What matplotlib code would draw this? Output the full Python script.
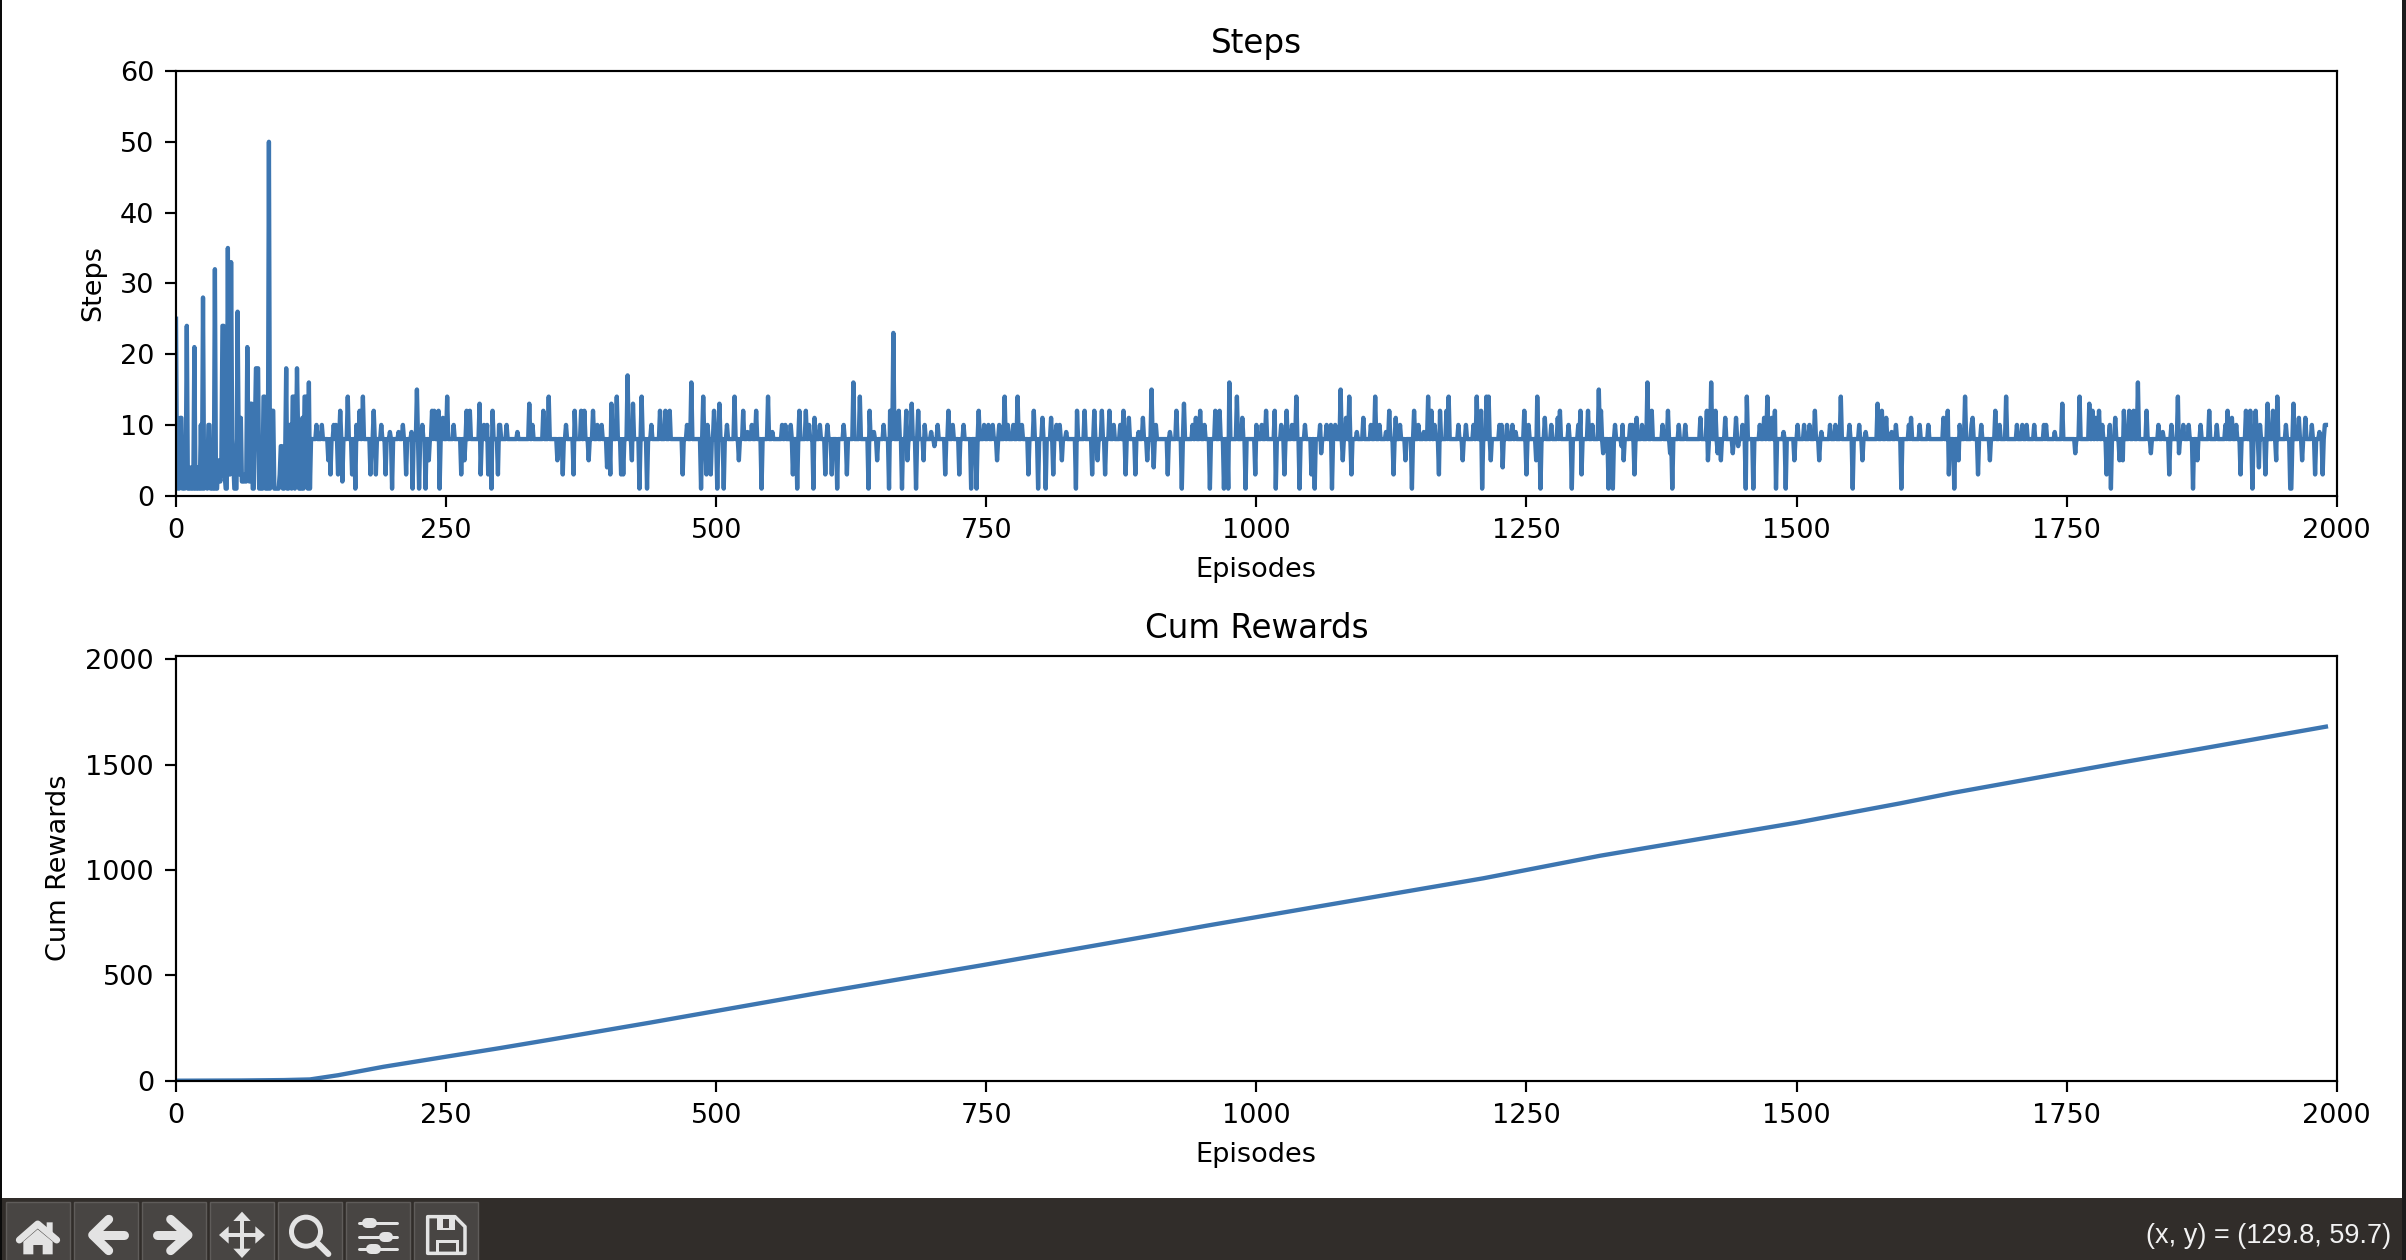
import matplotlib
matplotlib.use("Agg")
import matplotlib.pyplot as plt
from matplotlib.patches import Rectangle, Circle, Polygon

# first episodes, read one by one
steps_early = [25, 1, 9, 1, 11, 11, 1, 5, 1, 3, 24, 1, 1, 1, 4, 1, 1, 21, 1, 1, 4, 1, 1, 10, 1, 28, 1, 2, 5, 1,
               10, 10, 1, 5, 1, 1, 32, 1, 1, 5, 3, 2, 5, 24, 24, 3, 1, 1, 35, 3, 3, 33, 8, 5, 1, 1, 1, 26, 8, 3,
               11, 2, 2, 2, 3, 2, 21, 7, 2, 13, 13, 1, 1, 9, 18, 18, 18, 1, 5, 1, 1, 14, 14, 1, 1, 1, 50, 1, 8, 12,
               12, 1, 1, 1, 1, 1, 3, 7, 7, 1, 1, 5, 18, 1, 1, 10, 10, 1, 14, 14, 1, 6, 18, 9, 1, 1, 1, 11, 1, 14,
               14, 8, 1, 16, 1, 8]

# after that the series sits on 8, these are the episodes where it leaves 8
eps_a = [130, 135, 141, 143, 146, 148, 150, 152, 154, 159, 163, 166, 167, 170, 173, 180, 183, 185, 190, 194, 198, 200,
         206, 210, 213, 218, 219, 223, 225, 228, 231, 234, 237, 239, 243, 244, 247, 251, 257, 264, 267, 269, 272, 281,
         282, 285, 288, 289, 292, 293, 298, 299]
vals_a = [10, 10, 5, 3, 10, 10, 3, 12, 2, 14, 3, 1, 10, 12, 14, 3, 12, 3, 10, 3, 9, 1,
          9, 10, 3, 9, 1, 15, 1, 10, 1, 5, 12, 12, 12, 1, 11, 14, 10, 3, 5, 12, 12, 13,
          3, 10, 10, 3, 1, 12, 3, 10]

eps_b = [300, 306, 316, 327, 330, 340, 345, 353, 358, 361, 368, 369, 375, 378, 382, 386, 390, 394, 399, 402, 403, 408,
         412, 414, 418, 422, 423, 429, 431, 436, 440, 448, 453, 457, 469, 473, 477, 486, 488, 491, 492, 495, 498, 501,
         503, 507, 510, 517, 521, 525, 529, 533, 537, 542, 548, 552, 561, 564, 569, 571, 575, 577, 583, 586, 590, 591,
         596, 601, 603, 607, 612, 618, 621]
vals_b = [10, 10, 9, 13, 10, 12, 14, 5, 3, 10, 3, 12, 12, 12, 5, 12, 10, 10, 4, 3, 13, 14,
          3, 3, 17, 5, 13, 1, 14, 1, 10, 12, 12, 12, 3, 10, 16, 1, 14, 3, 10, 3, 12, 1,
          13, 1, 10, 14, 5, 12, 9, 10, 12, 1, 14, 9, 10, 10, 10, 3, 1, 12, 12, 10, 1, 11,
          10, 3, 10, 3, 1, 10, 3]

eps_c = [627, 633, 641, 642, 646, 649, 655, 660, 661, 664, 669, 672, 676, 677, 681, 685, 687, 692, 693, 699, 702, 705,
         712, 715, 719, 725, 729, 736, 741, 743, 748, 752, 756, 760, 762, 767, 770, 775, 779, 783, 789, 794, 798, 802,
         805, 810, 812, 815, 818, 820, 824, 833, 834, 841, 848, 850, 853, 857, 860, 864, 868, 874, 877, 879, 882, 888,
         891, 895, 899, 903, 905, 907, 918, 920, 926, 931, 933, 941, 944]
vals_c = [16, 14, 1, 12, 9, 5, 10, 1, 12, 23, 12, 1, 12, 5, 13, 1, 12, 5, 10, 9, 7, 10,
          3, 12, 10, 3, 10, 1, 1, 12, 10, 10, 10, 5, 10, 14, 10, 10, 14, 10, 3, 12, 1, 11,
          1, 11, 3, 10, 10, 5, 9, 1, 12, 12, 3, 12, 5, 12, 3, 12, 10, 10, 12, 3, 11, 3,
          9, 11, 5, 15, 4, 10, 3, 9, 12, 1, 13, 10, 11]

eps_d = [948, 952, 957, 962, 966, 970, 974, 975, 982, 987, 990, 999, 1000, 1005, 1009, 1017, 1018, 1023, 1026, 1028,
         1033, 1037, 1040, 1045, 1051, 1054, 1059, 1060, 1065, 1069, 1070, 1073, 1078, 1080, 1083, 1086, 1088, 1093,
         1099, 1106, 1110, 1114, 1120, 1123, 1127, 1129, 1133, 1138, 1144, 1146, 1150, 1155, 1159, 1162, 1165, 1169,
         1170, 1176, 1178, 1187, 1191, 1194, 1201, 1204, 1208, 1209, 1213, 1215, 1217, 1225]
vals_d = [12, 10, 1, 12, 12, 1, 1, 16, 14, 11, 1, 3, 10, 10, 12, 12, 1, 10, 3, 12,
          10, 14, 1, 10, 3, 1, 10, 6, 10, 10, 1, 10, 15, 5, 11, 14, 3, 9,
          11, 10, 14, 10, 9, 12, 3, 11, 10, 5, 1, 12, 10, 9, 14, 12, 10, 3,
          12, 12, 14, 10, 5, 10, 10, 14, 12, 1, 14, 14, 5, 10]

eps_e = [1227, 1228, 1232, 1237, 1240, 1248, 1250, 1252, 1259, 1260, 1263, 1267, 1273, 1279, 1281, 1289, 1292, 1298,
         1300, 1301, 1307, 1311, 1317, 1319, 1321, 1326, 1330, 1332, 1338, 1339, 1340, 1346, 1348, 1350, 1352, 1357,
         1362, 1366, 1376, 1381, 1383, 1385, 1391, 1397, 1411, 1417, 1418, 1421, 1425, 1427, 1430, 1434, 1441, 1444,
         1446, 1450, 1453, 1454, 1460, 1466, 1470, 1473, 1477, 1480, 1481, 1488, 1490, 1498, 1501, 1507, 1512, 1517,
         1521, 1523, 1531, 1536, 1541, 1549, 1552, 1558, 1561, 1564, 1575, 1579, 1583, 1588, 1592, 1597, 1606, 1604,
         1614, 1622, 1636, 1640, 1641, 1646, 1651, 1650, 1656, 1662, 1663, 1668, 1671, 1679, 1684, 1688]
vals_e = [10, 4, 10, 10, 9, 12, 3, 10, 5, 14, 1, 11, 10, 11, 12, 10, 1, 10,
          12, 3, 12, 10, 15, 12, 6, 1, 1, 10, 7, 10, 5, 10, 10, 3, 11, 10,
          16, 12, 10, 12, 6, 1, 10, 10, 11, 12, 5, 16, 12, 6, 5, 11, 6, 11,
          7, 10, 1, 14, 1, 10, 11, 14, 11, 12, 1, 9, 1, 5, 10, 10, 10, 12,
          5, 9, 10, 10, 14, 10, 1, 10, 5, 9, 13, 12, 11, 9, 10, 1, 11, 10,
          10, 10, 11, 12, 3, 1, 10, 5, 14, 10, 11, 3, 10, 5, 12, 10]

eps_f = [1694, 1704, 1709, 1713, 1720, 1729, 1731, 1739, 1746, 1758, 1762, 1771, 1774, 1777, 1780, 1783, 1787, 1790,
         1791, 1795, 1799, 1802, 1803, 1808, 1812, 1816, 1824, 1828, 1835, 1839, 1845, 1847, 1853, 1854, 1858, 1863,
         1867, 1871, 1874, 1882, 1889, 1897, 1899, 1903, 1907, 1911, 1916, 1920, 1922, 1925, 1928, 1929, 1934, 1936,
         1941, 1944, 1945, 1953, 1957, 1958, 1960, 1965, 1968, 1971, 1977, 1980, 1984, 1987, 1989, 1990]
vals_f = [14, 10, 10, 10, 10, 10, 10, 9, 13, 6, 14, 13, 12, 11, 12, 10, 3, 10,
          1, 11, 5, 5, 12, 12, 12, 16, 12, 6, 10, 9, 3, 10, 14, 6, 10, 10,
          1, 5, 10, 12, 10, 10, 12, 11, 10, 3, 12, 12, 1, 12, 4, 10, 3, 13,
          12, 5, 14, 10, 1, 1, 13, 11, 5, 11, 10, 3, 9, 3, 10, 10]

# cumulative rewards read at these episodes
cum_eps = [0, 60, 100, 124, 150, 192, 250, 300, 350, 438, 593, 747, 901, 954, 1056, 1210, 1318, 1364, 1500, 1596, 1645,
           1802, 1873, 1990]
cum_vals = [0, 1, 3, 6, 26, 66, 114, 155, 198, 275, 415, 549, 687, 736, 826, 961, 1068, 1108, 1225, 1317, 1367,
            1512, 1575, 1681]

x_ticks = [0, 250, 500, 750, 1000, 1250, 1500, 1750, 2000]
status_text = "(x, y) = (129.8, 59.7)"

W, H = 2406, 1260
DPI = 195
LINE = "#3d76b1"
LW = 1.6

plt.rcParams["xtick.major.size"] = 3.9
plt.rcParams["ytick.major.size"] = 3.9
plt.rcParams["xtick.major.pad"] = 4.2
plt.rcParams["ytick.major.pad"] = 4.2
plt.rcParams["axes.labelpad"] = 5
plt.rcParams["axes.titlepad"] = 6.5

steps = [8] * 1991
steps[:len(steps_early)] = steps_early
for e_list, v_list in [(eps_a, vals_a), (eps_b, vals_b), (eps_c, vals_c), (eps_d, vals_d), (eps_e, vals_e), (eps_f, vals_f)]:
    assert len(e_list) == len(v_list), (e_list[0], len(e_list), len(v_list))
    for e, v in zip(e_list, v_list):
        steps[e] = v

fig = plt.figure(figsize=(W / DPI, H / DPI), dpi=DPI, facecolor="white")


def axes_px(x0, y0, x1, y1):
    return fig.add_axes([x0 / W, 1 - y1 / H, (x1 - x0) / W, (y1 - y0) / H])


ax1 = axes_px(176, 71, 2336.7, 495.7)
ax1.plot(range(len(steps)), steps, color=LINE, lw=LW)
ax1.set_xlim(0, 2000)
ax1.set_ylim(0, 60)
ax1.set_xticks(x_ticks)
ax1.set_title("Steps")
ax1.set_xlabel("Episodes")
ax1.set_ylabel("Steps")

ax2 = axes_px(176, 655.7, 2336.7, 1080.7)
ax2.plot(cum_eps, cum_vals, color=LINE, lw=LW)
ax2.set_xlim(0, 2000)
ax2.set_ylim(0, 2018)
ax2.set_xticks(x_ticks)
ax2.set_yticks([0, 500, 1000, 1500, 2000])
ax2.set_title("Cum Rewards")
ax2.set_xlabel("Episodes")
ax2.set_ylabel("Cum Rewards")

# window chrome: toolbar strip, buttons, icons, all in pixels
ov = fig.add_axes([0, 0, 1, 1], zorder=5)
ov.set_xlim(0, W)
ov.set_ylim(H, 0)
ov.axis("off")
ov.patch.set_alpha(0)

BAR = "#312d2a"
BTN = "#484543"
EDGE = "#5f5c5a"
ICON = "#e3e3e3"


def pt(px):
    return px * 72 / DPI


def zp(x, y):
    # icon drawing coordinates are 3x, origin at y=1160
    return x / 3, 1160 + y / 3


def stroke(points, width, color=ICON):
    xs, ys = zip(*[zp(*p) for p in points])
    ov.plot(xs, ys, color=color, lw=pt(width), solid_capstyle="round", solid_joinstyle="round")


def fill(points, color=ICON):
    ov.add_patch(Polygon([zp(*p) for p in points], closed=True, fc=color, ec="none"))


ov.add_patch(Rectangle((0, 0), 2.2, H, fc="#0a0a0a", ec="none"))
ov.add_patch(Rectangle((2402, 0), 4, H, fc="#1c1c1c", ec="none"))
ov.add_patch(Rectangle((2, 1198), 2400, 62, fc=BAR, ec="none"))
for i in range(7):
    ov.add_patch(Rectangle((6 + 68 * i, 1202), 64, 60, fc=BTN, ec=EDGE, lw=pt(1.4)))

# home
stroke([(58, 240), (113, 192), (170, 240)], 7)
fill([(70, 245), (113, 208), (158, 245), (158, 283), (128, 283), (128, 255), (100, 255), (100, 283), (70, 283)])
fill([(140, 187), (158, 187), (158, 222), (140, 207)])
# back / forward
stroke([(372, 225), (280, 225)], 9)
stroke([(326, 178), (278, 225), (326, 272)], 9)
stroke([(472, 225), (562, 225)], 9)
stroke([(512, 178), (564, 225), (512, 272)], 9)
# pan
stroke([(726, 170), (726, 280)], 4)
stroke([(672, 225), (780, 225)], 4)
fill([(726, 155), (752, 183), (700, 183)])
fill([(726, 294), (752, 266), (700, 266)])
fill([(657, 225), (686, 199), (686, 251)])
fill([(795, 225), (766, 199), (766, 251)])
# zoom
cx, cy = zp(918, 215)
ov.add_patch(Circle((cx, cy), 14.5, fc="none", ec=ICON, lw=pt(5)))
stroke([(955, 252), (985, 282)], 6)
# sliders
for y, kx in [(190, 1108), (230, 1158), (268, 1120)]:
    stroke([(1078, y), (1190, y)], 3)
    stroke([(kx - 7, y), (kx + 7, y)], 10)
# save
ov.add_patch(Polygon([zp(*p) for p in [(1283, 170), (1365, 170), (1395, 200), (1395, 280), (1283, 280)]],
                     closed=True, fc="none", ec=ICON, lw=pt(3.5), joinstyle="round"))
fill([(1312, 172), (1365, 172), (1365, 210), (1312, 210)])
fill([(1328, 176), (1346, 176), (1346, 204), (1328, 204)], BTN)
ov.add_patch(Polygon([zp(*p) for p in [(1310, 280), (1310, 242), (1370, 242), (1370, 280)]],
                     closed=False, fc="none", ec=ICON, lw=pt(3)))

ov.text(2391, 1236, status_text, color="#f2f2f2", ha="right", va="center", fontsize=10, family="Liberation Sans")

fig.savefig("out.png", dpi=DPI)
